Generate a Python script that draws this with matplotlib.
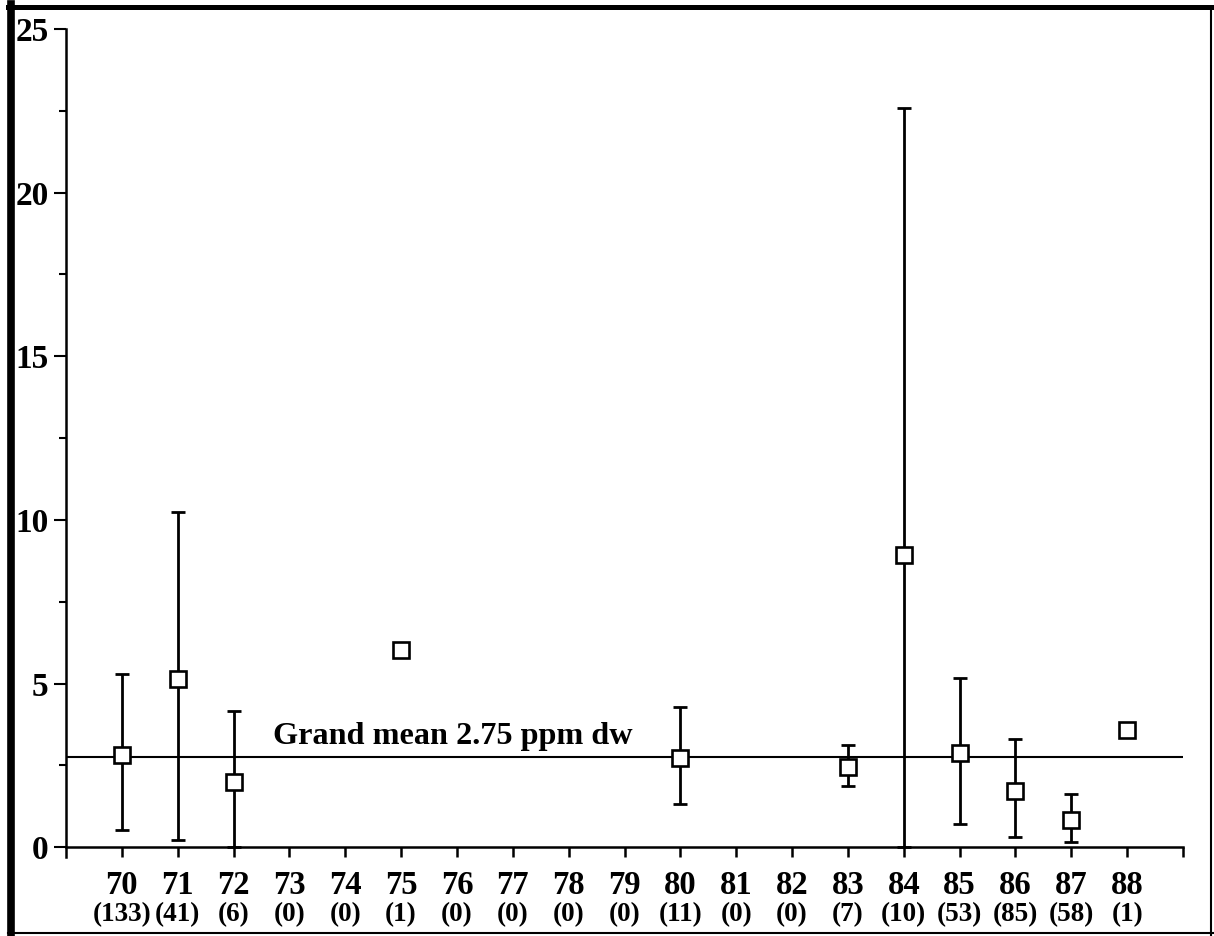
import matplotlib
matplotlib.use("Agg")
import matplotlib.pyplot as plt
from matplotlib.lines import Line2D
from matplotlib.ticker import MultipleLocator, FixedLocator
import numpy as np

# ---- data ----
years = [70, 71, 72, 73, 74, 75, 76, 77, 78, 79, 80, 81, 82, 83, 84, 85, 86, 87, 88]
counts = [133, 41, 6, 0, 0, 1, 0, 0, 0, 0, 11, 0, 0, 7, 10, 53, 85, 58, 1]
# points with data
pt_years = [70, 71, 72, 75, 80, 83, 84, 85, 86, 87, 88]
pt_mean = [2.81, 5.15, 2.0, 6.02, 2.72, 2.45, 8.92, 2.87, 1.71, 0.83, 3.58]
pt_upper = [5.29, 10.24, 4.17, np.nan, 4.28, 3.13, 22.58, 5.17, 3.31, 1.62, np.nan]
pt_lower = [0.52, 0.21, 0.0, np.nan, 1.31, 1.86, 0.0, 0.70, 0.31, 0.15, np.nan]
grand_mean = 2.75
grand_label = "Grand mean 2.75 ppm dw"
ytick_vals = [0, 5, 10, 15, 20, 25]

plt.rcParams['font.family'] = ['Liberation Serif', 'DejaVu Serif']
plt.rcParams['font.weight'] = 'bold'

fig = plt.figure(figsize=(12.14, 9.36), dpi=100)
ax = fig.add_axes([66/1214, (936-857)/936, (1183-66)/1214, (857-29)/936])

ax.set_xlim(69, 89)
ax.set_ylim(-0.3, 25)

# grand mean line
ax.axhline(grand_mean, color='black', lw=1.5, zorder=1)
ax.text(72.71, grand_mean + 0.2, grand_label, fontsize=23.2, fontweight='bold',
        ha='left', va='bottom')

# error bars
m = np.array(pt_mean)
up = np.array(pt_upper)
lo = np.array(pt_lower)
has = ~np.isnan(up)
px = np.array(pt_years)
ax.errorbar(px[has], m[has], yerr=[m[has] - lo[has], up[has] - m[has]],
            fmt='none', ecolor='black', elinewidth=2, capsize=5, capthick=2, zorder=2)
ax.plot(px, m, 's', ms=11.5, mfc='white', mec='black', mew=1.9, zorder=3, linestyle='none')

# spines
for s in ['top', 'right']:
    ax.spines[s].set_visible(False)
ax.spines['left'].set_linewidth(1.8)
ax.spines['bottom'].set_linewidth(1.8)
ax.spines['bottom'].set_position(('data', 0))

# ticks
ax.yaxis.set_major_locator(FixedLocator(ytick_vals))
ax.yaxis.set_minor_locator(MultipleLocator(2.5))
ax.set_yticklabels([str(v) for v in ytick_vals], fontweight='bold')
ax.tick_params(axis='y', which='major', length=8.5, width=1.5, labelsize=24, pad=4)
ax.tick_params(axis='y', which='minor', length=5, width=1.5)

xt = years + [89]
ax.set_xticks(xt)
ax.set_xticklabels([str(y) for y in years] + [''], fontweight='bold')
ax.tick_params(axis='x', which='major', length=7.2, width=1.8, labelsize=23.5, pad=9.5, direction='out')

# counts
trans = ax.get_xaxis_transform()
for y, c in zip(years, counts):
    ax.text(y, -0.07, f"({c})", transform=trans, ha='center', va='center',
            fontsize=19.5, fontweight='bold')

# figure border
fig.add_artist(Line2D([11/1214, 11/1214], [0, 1 - 4/936], color='black', lw=5.5, transform=fig.transFigure))
fig.add_artist(Line2D([8/1214, 1], [1 - 7/936, 1 - 7/936], color='black', lw=3.6, transform=fig.transFigure))
fig.add_artist(Line2D([1211/1214, 1211/1214], [0, 1 - 7/936], color='black', lw=1.5, transform=fig.transFigure))
fig.add_artist(Line2D([8/1214, 1], [3/936, 3/936], color='black', lw=1.5, transform=fig.transFigure))

fig.savefig('out.png', dpi=100)
